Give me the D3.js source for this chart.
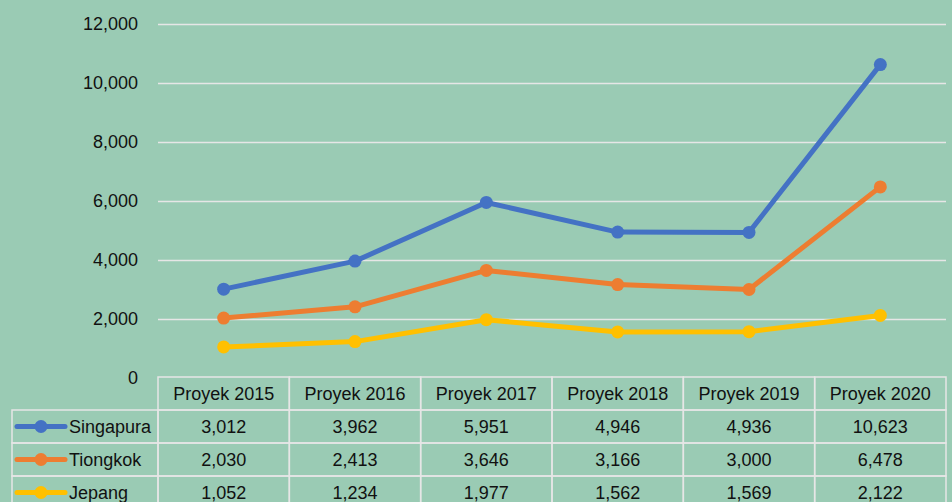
<!DOCTYPE html>
<html>
<head>
<meta charset="utf-8">
<script src="https://cdn.jsdelivr.net/npm/d3@7"></script>
<style>
  html, body { margin: 0; padding: 0; background: #9acbb4; }
  svg { display: block; font-family: "Liberation Sans", Arial, sans-serif; }
</style>
</head>
<body>
<svg id="chart"></svg>
<script>
// Data
const categories = ['Proyek 2015', 'Proyek 2016', 'Proyek 2017', 'Proyek 2018', 'Proyek 2019', 'Proyek 2020'];
const seriesNames = ['Singapura', 'Tiongkok', 'Jepang'];
const singapura = [3012, 3962, 5951, 4946, 4936, 10623];
const tiongkok = [2030, 2413, 3646, 3166, 3000, 6478];
const jepang = [1052, 1234, 1977, 1562, 1569, 2122];
const yTicks = [0, 2000, 4000, 6000, 8000, 10000, 12000];
const colors = ['#4472c4', '#ed7d31', '#ffc000'];

const series = seriesNames.map((name, i) => ({
    name,
    values: [singapura, tiongkok, jepang][i],
    color: colors[i]
}));

const W = 952, H = 502;
const plot = {left: 158, right: 946, top: 24, bottom: 378};
const rowH = 33;
const legendLeft = 12;

const svg = d3.select('#chart')
    .attr('width', W)
    .attr('height', H);

const xScale = d3.scaleBand()
    .domain(categories)
    .range([plot.left, plot.right])
    .padding(0);

const yScale = d3.scaleLinear()
    .domain([0, 12000])
    .range([plot.bottom, plot.top]);

const fmt = d3.format(',');

// Gridlines + y labels
const yAxis = svg.append('g')
    .attr('transform', `translate(${plot.left},0)`)
    .call(d3.axisLeft(yScale)
        .tickValues(yTicks)
        .tickSize(-(plot.right - plot.left))
        .tickPadding(20)
        .tickFormat(fmt));
yAxis.select('.domain').remove();
yAxis.selectAll('.tick line')
    .attr('stroke', '#e6e6e6')
    .attr('stroke-width', 1.5)
    .filter(d => d === 0).remove();
yAxis.selectAll('.tick text')
    .attr('fill', '#111')
    .style('font-size', '18px');

// Lines
const line = d3.line()
    .x((d, i) => xScale(categories[i]) + xScale.bandwidth() / 2)
    .y(d => yScale(d));

series.forEach(s => {
    svg.append('path')
        .datum(s.values)
        .attr('fill', 'none')
        .attr('stroke', s.color)
        .attr('stroke-width', 5)
        .attr('stroke-linejoin', 'round')
        .attr('stroke-linecap', 'round')
        .attr('d', line);
    svg.selectAll(null)
        .data(s.values)
        .enter()
        .append('circle')
        .attr('cx', (d, i) => xScale(categories[i]) + xScale.bandwidth() / 2)
        .attr('cy', d => yScale(d))
        .attr('r', 6.5)
        .attr('fill', s.color);
});

// Data table
const table = svg.append('g');
const tableTop = plot.bottom - 1;
const gridColor = '#e6e6e6';

// header cells
categories.forEach(c => {
    table.append('rect')
        .attr('x', xScale(c))
        .attr('y', tableTop)
        .attr('width', xScale.bandwidth())
        .attr('height', rowH)
        .attr('fill', 'none')
        .attr('stroke', gridColor)
        .attr('stroke-width', 1.5);
    table.append('text')
        .attr('x', xScale(c) + xScale.bandwidth() / 2)
        .attr('y', tableTop + rowH / 2 + 6)
        .attr('text-anchor', 'middle')
        .attr('fill', '#111')
        .style('font-size', '18px')
        .text(c);
});

series.forEach((s, r) => {
    const y0 = tableTop + rowH * (r + 1);
    // legend cell
    table.append('rect')
        .attr('x', legendLeft)
        .attr('y', y0)
        .attr('width', plot.left - legendLeft)
        .attr('height', rowH)
        .attr('fill', 'none')
        .attr('stroke', gridColor)
        .attr('stroke-width', 1.5);
    table.append('line')
        .attr('x1', legendLeft + 5)
        .attr('x2', legendLeft + 53)
        .attr('y1', y0 + rowH / 2)
        .attr('y2', y0 + rowH / 2)
        .attr('stroke', s.color)
        .attr('stroke-width', 5)
        .attr('stroke-linecap', 'round');
    table.append('circle')
        .attr('cx', legendLeft + 29)
        .attr('cy', y0 + rowH / 2)
        .attr('r', 6.5)
        .attr('fill', s.color);
    table.append('text')
        .attr('x', legendLeft + 57)
        .attr('y', y0 + rowH / 2 + 6)
        .attr('fill', '#111')
        .style('font-size', '18px')
        .text(s.name);

    s.values.forEach((v, i) => {
        const c = categories[i];
        table.append('rect')
            .attr('x', xScale(c))
            .attr('y', y0)
            .attr('width', xScale.bandwidth())
            .attr('height', rowH)
            .attr('fill', 'none')
            .attr('stroke', gridColor)
            .attr('stroke-width', 1.5);
        table.append('text')
            .attr('x', xScale(c) + xScale.bandwidth() / 2)
            .attr('y', y0 + rowH / 2 + 6)
            .attr('text-anchor', 'middle')
            .attr('fill', '#111')
            .style('font-size', '18px')
            .text(fmt(v));
    });
});
</script>
</body>
</html>
